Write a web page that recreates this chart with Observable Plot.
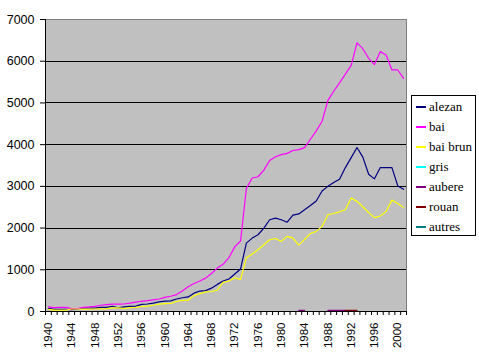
<!DOCTYPE html>
<html><head><meta charset="utf-8">
<script src="https://cdn.jsdelivr.net/npm/d3@7"></script>
<script src="https://cdn.jsdelivr.net/npm/@observablehq/plot@0.6"></script>
<style>
body{margin:0;background:#fff;}
#wrap{position:relative;width:479px;height:359px;}
#legend{position:absolute;left:411px;top:95px;width:63px;height:139px;border:1px solid #000;background:#fff;font-family:"Liberation Serif","DejaVu Serif","Times New Roman",serif;font-size:13px;color:#000;}
.item{position:absolute;left:0;height:20px;display:flex;align-items:center;white-space:nowrap;}
.sw{width:10px;height:1.5px;margin-left:4px;margin-right:3px;}
</style></head><body><div id="wrap"><div id="legend"></div></div>
<script>
const years = d3.range(1940, 2002);
const seriesNames = ["alezan","bai","bai brun","gris","aubere","rouan","autres"];
const seriesColors = ["#000080","#ff00ff","#ffff00","#00ffff","#800080","#800000","#008080"];
const yTicks = [0,1000,2000,3000,4000,5000,6000,7000];
const gridValues = [1000,2000,3000,4000,5000,6000];
const xLabelYears = [1940,1944,1948,1952,1956,1960,1964,1968,1972,1976,1980,1984,1988,1992,1996,2000];

const alezan = [75,50,50,50,45,60,80,80,80,100,
  100,125,90,110,125,130,170,180,200,230,
  250,255,300,330,350,440,490,500,560,650,
  730,780,900,1020,1640,1760,1840,2000,2200,2240,
  2200,2140,2310,2340,2440,2540,2650,2890,3000,3090,
  3170,3450,3690,3930,3700,3290,3180,3450,3450,3450,
  3010,2930];
const bai = [110,95,100,100,70,70,100,110,125,150,
  165,175,175,180,200,225,245,260,280,300,
  340,365,405,490,595,670,730,800,910,1040,
  1130,1290,1550,1690,2950,3200,3230,3390,3620,3710,
  3760,3790,3860,3880,3930,4130,4330,4560,5060,5280,
  5480,5690,5900,6440,6300,6070,5920,6230,6150,5790,
  5790,5590];
const baiBrun = [50,35,35,35,60,60,55,55,60,65,
  70,85,90,70,95,100,125,130,150,175,
  190,195,240,265,270,380,430,470,480,510,
  700,730,810,770,1290,1380,1480,1600,1720,1750,
  1680,1800,1760,1590,1730,1870,1920,2040,2320,2350,
  2390,2440,2720,2640,2510,2370,2250,2290,2400,2670,
  2590,2490];
const gris = [];
const aubere = [null,null,null,null,null,null,null,null,null,null,
  null,null,null,null,null,null,null,null,null,null,
  null,null,null,null,null,null,null,null,null,null,
  null,null,null,null,null,null,null,null,null,null,
  null,null,null,25,25,null,null,null,25,25,
  25,25,null,null,null,null,null,null,null,null,
  null,null];
const rouan = [null,null,null,null,null,null,null,null,null,null,
  null,null,null,null,null,null,null,null,null,null,
  null,null,null,null,null,null,null,null,null,null,
  null,null,null,null,null,null,null,null,null,null,
  null,null,null,null,null,null,null,null,null,null,
  null,25,25,25,null,null,null,null,null,null,
  null,null];
const autres = [];

const seriesValues = [alezan, bai, baiBrun, gris, aubere, rouan, autres];
const xBounds = d3.range(0, years.length + 1).map(i => years[0] - 0.5 + i);

const lineMarks = seriesNames.map((name, s) => {
  const rows = years.map((yr, i) => ({series: name, year: yr, value: seriesValues[s][i] ?? null}));
  return Plot.line(rows, {x: "year", y: "value", stroke: "series", strokeWidth: 1.2});
});

const chart = Plot.plot({
  width: 479, height: 359,
  marginLeft: 45, marginRight: 73, marginTop: 19, marginBottom: 48,
  style: {fontFamily: "'Liberation Sans', Arial, sans-serif", fontSize: "12px", color: "#000", background: "transparent", overflow: "visible"},
  x: {domain: [1939.5, 2001.5]},
  y: {domain: [0, 7000]},
  color: {domain: seriesNames, range: seriesColors},
  marks: [
    Plot.frame({fill: "#c0c0c0", stroke: null}),
    Plot.ruleY(gridValues, {stroke: "#000", strokeWidth: 1, shapeRendering: "crispEdges"}),
    Plot.ruleY([7000], {stroke: "#808080", shapeRendering: "crispEdges"}),
    Plot.ruleX([2001.5], {stroke: "#808080", shapeRendering: "crispEdges"}),
    ...lineMarks,
    Plot.ruleX([1939.5], {stroke: "#000", shapeRendering: "crispEdges"}),
    Plot.ruleY([0], {stroke: "#000", shapeRendering: "crispEdges"}),
    Plot.axisY({ticks: yTicks, tickSize: 5, tickPadding: 6, tickFormat: d => String(d), fontSize: 12.5, label: null}),
    Plot.axisX({ticks: xBounds, tickSize: 4, tickFormat: () => "", label: null}),
    Plot.axisX({ticks: xLabelYears, tickSize: 0, tickPadding: 11, tickRotate: -90, tickFormat: d => String(d), fontSize: 11.5, label: null})
  ]
});
document.getElementById("wrap").prepend(chart);

const legend = document.getElementById("legend");
seriesNames.forEach((name, i) => {
  const item = document.createElement("div");
  item.className = "item";
  item.style.top = (1 + i * 20) + "px";
  const sw = document.createElement("span");
  sw.className = "sw";
  sw.style.background = seriesColors[i];
  const tx = document.createElement("span");
  tx.textContent = name;
  item.appendChild(sw);
  item.appendChild(tx);
  legend.appendChild(item);
});
</script>
</body></html>
